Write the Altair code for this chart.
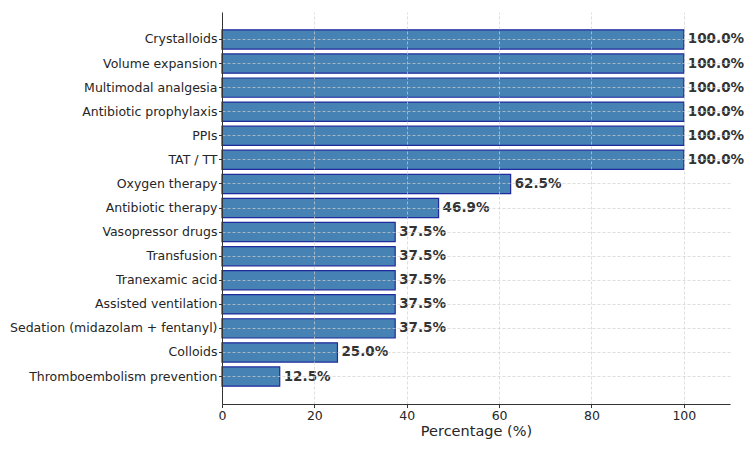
import altair as alt
import pandas as pd

categories = [
    "Crystalloids", "Volume expansion", "Multimodal analgesia", "Antibiotic prophylaxis",
    "PPIs", "TAT / TT", "Oxygen therapy", "Antibiotic therapy", "Vasopressor drugs",
    "Transfusion", "Tranexamic acid", "Assisted ventilation",
    "Sedation (midazolam + fentanyl)", "Colloids", "Thromboembolism prevention",
]
values = [100.0, 100.0, 100.0, 100.0, 100.0, 100.0, 62.5, 46.9, 37.5, 37.5, 37.5, 37.5, 37.5, 25.0, 12.5]

df = pd.DataFrame({"cat": categories, "val": values})
df["label"] = [f"{v:.1f}%" for v in values]

FONT = "DejaVu Sans"
GRID = "#d0d0d0"

y_enc = alt.Y("cat:N", sort=categories, title=None,
              scale=alt.Scale(paddingInner=0.2, paddingOuter=0.74),
              axis=alt.Axis(grid=True, gridDash=[3, 2], gridColor=GRID, gridWidth=0.7,
                            domainColor="#333333", tickColor="#333333", tickSize=3.5,
                            labelFontSize=12.5, labelColor="#262626", labelPadding=1.5,
                            labelLimit=400, labelFont=FONT, zindex=1))
x_scale = alt.Scale(domain=[0, 110], nice=False)

bars = alt.Chart(df).mark_bar(color="#4682b4", stroke="#1f2a9c", strokeWidth=1.2).encode(
    x=alt.X("val:Q", scale=x_scale, title="Percentage (%)",
            axis=alt.Axis(values=[0, 20, 40, 60, 80, 100], grid=True, gridDash=[3, 2],
                          gridColor=GRID, gridWidth=0.7, domainColor="#333333",
                          tickColor="#333333", tickSize=3.5, labelFontSize=12.5,
                          labelColor="#262626", labelFont=FONT, titleFont=FONT,
                          labelFlush=False,
                          titleFontSize=14.5, titleFontWeight="normal", titleColor="#262626",
                          titlePadding=3, labelPadding=1.5, zindex=1)),
    y=y_enc,
)

text = alt.Chart(df).mark_text(align="left", baseline="middle", dx=4, font=FONT,
                               fontSize=13.5, fontWeight="bold", color="#333333").encode(
    x=alt.X("val:Q", scale=x_scale),
    y=alt.Y("cat:N", sort=categories),
    text="label:N",
)

chart = (bars + text).properties(
    width=508, height=392,
    autosize=alt.AutoSizeParams(type="none"),
    padding={"left": 222, "top": 12, "right": 20, "bottom": 46},
).configure_view(stroke=None).configure_axisY(domainColor="#333333")

chart.save("out.html", embed_options={"renderer": "svg", "actions": False})
